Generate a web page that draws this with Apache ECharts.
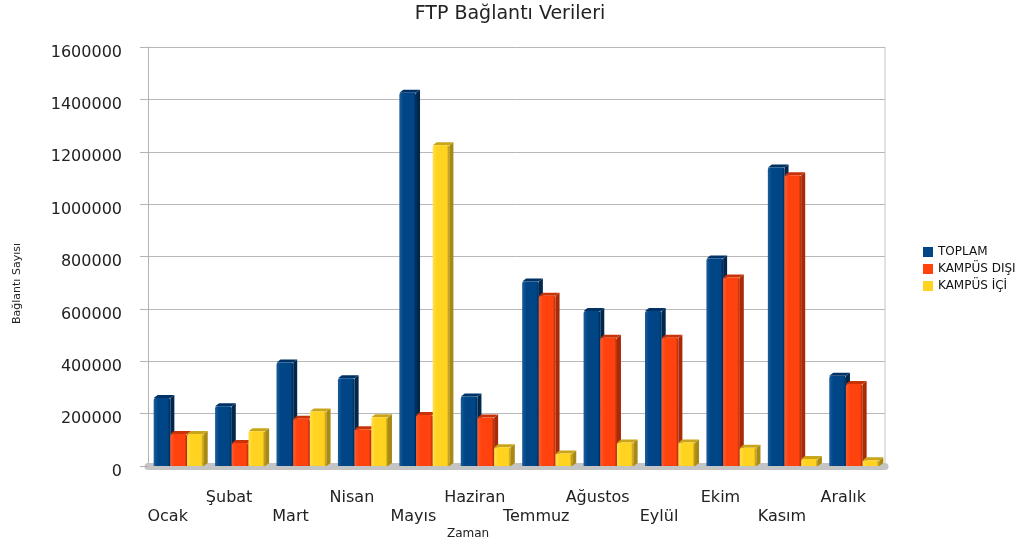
<!DOCTYPE html>
<html>
<head>
<meta charset="utf-8">
<script src="https://cdn.jsdelivr.net/npm/echarts@6/dist/echarts.min.js"></script>
<style>html,body{margin:0;padding:0;background:#fff;}#c{width:1020px;height:545px;}</style>
</head>
<body>
<div id="c"></div>
<script>
const categories = ['Ocak','Şubat','Mart','Nisan','Mayıs','Haziran','Temmuz','Ağustos','Eylül','Ekim','Kasım','Aralık'];
const toplam  = [260000, 228000, 395000, 335000, 1425000, 265000, 705000, 592000, 592000, 792000, 1140000, 345000];
const disi    = [122000,  88000, 180000, 140000,  195000, 185000, 650000, 490000, 490000, 720000, 1110000, 313000];
const ici     = [122000, 133000, 208000, 186000, 1225000,  72000,  48000,  90000,  90000,  70000,   27000,  22000];
const seriesNames = ['TOPLAM', 'KAMPÜS DIŞI', 'KAMPÜS İÇİ'];
const yTicks = [0, 200000, 400000, 600000, 800000, 1000000, 1200000, 1400000, 1600000];

const palette = [
  {front: '#004586', light: '#1a5c9c', side: '#00284f', top: '#003266'},
  {front: '#ff420e', light: '#ff5a2a', side: '#a82a06', top: '#c8330a'},
  {front: '#ffd320', light: '#ffe04d', side: '#a88a12', top: '#c9a51a'}
];
const FONT = 'DejaVu Sans';

function makeRender(s) {
  return function (params, api) {
    const idx = api.value(0), v = api.value(1);
    const top = api.coord([idx, v]);
    const base = api.coord([idx, 0]);
    const band = api.size([1, 0])[0];
    const groupW = band * 0.815;
    const w = groupW / 3;
    const d = 4, dy = 3;
    const x0 = top[0] - groupW / 2 + s * w;
    const c = palette[s];
    const grad = new echarts.graphic.LinearGradient(0, 0, 1, 0, [
      {offset: 0, color: c.light},
      {offset: 0.25, color: c.front},
      {offset: 0.85, color: c.front},
      {offset: 1, color: c.side}
    ]);
    return {
      type: 'group',
      children: [
        {type: 'polygon', shape: {points: [[x0 + w, top[1]], [x0 + w + d, top[1] - dy], [x0 + w + d, base[1] - dy], [x0 + w, base[1]]]}, style: {fill: c.side}},
        {type: 'polygon', shape: {points: [[x0, top[1]], [x0 + d, top[1] - dy], [x0 + w + d, top[1] - dy], [x0 + w, top[1]]]}, style: {fill: c.top}},
        {type: 'rect', shape: {x: x0, y: top[1], width: w, height: base[1] - top[1], r: [2, 2, 0, 0]}, style: {fill: grad}}
      ]
    };
  };
}

const dataSets = [toplam, disi, ici];
const series = dataSets.map((arr, s) => ({
  name: seriesNames[s],
  type: 'custom',
  renderItem: makeRender(s),
  encode: {x: 0, y: 1},
  data: arr.map((v, i) => [i, v]),
  itemStyle: {color: palette[s].front},
  z: 2 + s
}));

const chart = echarts.init(document.getElementById('c'), null, {renderer: 'canvas'});
chart.setOption({
  animation: false,
  backgroundColor: '#ffffff',
  title: {
    text: 'FTP Bağlantı Verileri',
    left: 'center', top: 0,
    textStyle: {fontFamily: FONT, fontSize: 19, fontWeight: 'normal', color: '#222'}
  },
  legend: {
    orient: 'vertical', left: 918, top: 241,
    itemWidth: 10, itemHeight: 10, itemGap: 5, icon: 'rect',
    textStyle: {fontFamily: FONT, fontSize: 12, color: '#111'},
    data: seriesNames
  },
  grid: {left: 148, right: 135, top: 47, bottom: 79},
  xAxis: {
    type: 'category',
    data: categories,
    axisLine: {show: true, lineStyle: {color: '#c4c4c4', width: 7}},
    axisTick: {show: false},
    axisLabel: {
      interval: 0,
      fontFamily: FONT, fontSize: 16, color: '#222',
      lineHeight: 19, margin: 22,
      padding: [0, 22, 0, 0],
      formatter: function (val, i) { return i % 2 === 0 ? '\n' + val : val + '\n'; }
    },
    splitLine: {show: false}
  },
  yAxis: {
    type: 'value',
    min: yTicks[0], max: yTicks[yTicks.length - 1], interval: yTicks[1] - yTicks[0],
    axisLine: {show: true, lineStyle: {color: '#b3b3b3', width: 1}},
    axisTick: {show: true, length: 8, lineStyle: {color: '#b3b3b3'}},
    axisLabel: {
      fontFamily: FONT, fontSize: 16, color: '#222', margin: 26,
      lineHeight: 11,
      formatter: function (v) { return '\n' + String(v); }
    },
    splitLine: {show: true, lineStyle: {color: '#b8b8b8', width: 1}}
  },
  graphic: [
    {type: 'text', left: 12, top: 243, rotation: Math.PI / 2,
      style: {text: 'Bağlantı Sayısı', font: '11px "DejaVu Sans"', fill: '#222'}},
    {type: 'text', left: 447, top: 528,
      style: {text: 'Zaman', font: '12px "DejaVu Sans"', fill: '#222'}},
    {type: 'line', shape: {x1: 885, y1: 47, x2: 885, y2: 466}, style: {stroke: '#c4c4c4', lineWidth: 1}}
  ],
  series: series
});
</script>
</body>
</html>
